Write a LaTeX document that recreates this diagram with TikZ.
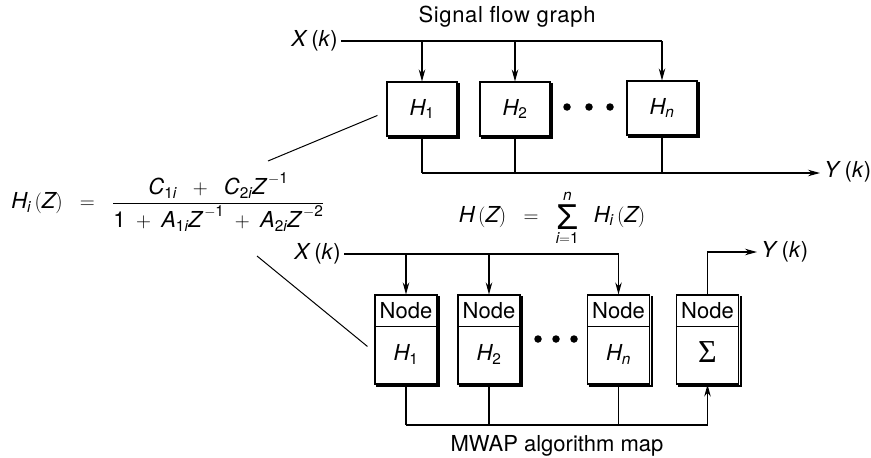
\documentclass[tikz,border=0pt]{standalone}
\usepackage{amsmath}
\usepackage{fontspec}
\setmainfont{TeX Gyre Heros}
\newfontfamily\sigfont{Liberation Serif}
\newfontfamily\sumfont{Liberation Sans}
\usetikzlibrary{arrows.meta}
\newcommand\vv[1]{\textit{#1}}
\newcommand\tu[1]{\textup{#1}}
\newcommand\mysumsign{\mathop{\vcenter{\hbox{\sumfont\fontsize{36}{36}\selectfont Σ}}}\limits}
\tikzset{
  every node/.style={font=\fontsize{22}{26}\selectfont, inner sep=0pt},
  wire/.style={line width=1.1pt},
  arr/.style={wire, -{Stealth[length=12pt,width=6.5pt]}},
  hbox/.style={draw, line width=1.1pt, fill=white, minimum width=70pt, minimum height=54pt},
  nbox/.style={draw, line width=1.1pt, fill=white, minimum width=62pt, minimum height=89pt},
  dot/.style={circle, fill=black, minimum size=7.5pt},
  shadowline/.style={line width=2.2pt}
}
\newcommand\boxshadow[1]{%
  \draw[shadowline] ([xshift=1.6pt,yshift=-2pt]#1.north east) -- ([xshift=1.6pt,yshift=-1.6pt]#1.south east) -- ([xshift=2pt,yshift=-1.6pt]#1.south west);}
\begin{document}
\begin{tikzpicture}[x=1pt,y=-1pt]
\useasboundingbox (0,0) rectangle (871,458);
% ---------- top: signal flow graph ----------
\node (t1) at (507,17) {\addfontfeature{LetterSpace=3}Signal flow graph};
\node[anchor=east] (xk1) at (338,41) {\vv{X}\,(\vv{k})};
\node[hbox] (h1) at (422,109) {};
\node[hbox] (h2) at (515,109) {};
\node[hbox] (hn) at (662,108) {};
\foreach \b in {h1,h2,hn}{\boxshadow{\b}}
\node at (h1) {$\vv{H}_{\tu{1}}$};
\node at (h2) {$\vv{H}_{\tu{2}}$};
\node at (hn) {$\vv{H}_{\vv{n}}$};
\node[dot] (d1) at (567,107) {};
\node[dot] (d2) at (589,107) {};
\node[dot] (d3) at (610,107) {};
\draw[wire] ([xshift=3pt]xk1.east) -- (xk1.east -| hn.north);
\draw[arr] (xk1.east -| h1.north) -- (h1.north);
\draw[arr] (xk1.east -| h2.north) -- (h2.north);
\draw[arr] (xk1.east -| hn.north) -- (hn.north);
\coordinate (s1) at (422,173);
\node[anchor=west] (yk1) at (824,172) {\vv{Y}\,(\vv{k})};
\draw[wire] (h1.south) -- (s1);
\draw[wire] (h2.south) -- (h2.south |- s1);
\draw[wire] (hn.south) -- (hn.south |- s1);
\draw[arr] (s1) -- ([xshift=-4pt]yk1.west |- s1);
% ---------- left formula ----------
\node (f) at (168,202) {$\vv{H}_{\vv{i}}\,(\vv{Z}) \;\;=\;\; \dfrac{\vv{C}_{\tu{1}\vv{i}} \;\;+\;\; \vv{C}_{\tu{2}\vv{i}}\vv{Z}^{\,-\tu{1}}}{\tu{1} \;+\; \vv{A}_{\tu{1}\vv{i}}\vv{Z}^{\,-\tu{1}} \;+\; \vv{A}_{\tu{2}\vv{i}}\vv{Z}^{\,-\tu{2}}}$};
\coordinate (c1) at (268,161);
\coordinate (c2) at (257,256);
\draw[line width=1pt] (c1) -- ([xshift=-9pt,yshift=-34pt]h1.north west);
% ---------- middle formula ----------
\node[anchor=base] (m) at (552,222) {$\vv{H}\,(\vv{Z}) \;\;=\;\; \mysumsign_{\vv{i}=\tu{1}}^{\vv{n}}\;\; \vv{H}_{\vv{i}}\,(\vv{Z})$};
% ---------- bottom: MWAP algorithm map ----------
\node[anchor=east] (xk2) at (341,254) {\vv{X}\,(\vv{k})};
\node[nbox] (n1) at (406,339.5) {};
\node[nbox] (n2) at (489,339.5) {};
\node[nbox] (n3) at (618.5,339.5) {};
\node[nbox] (n4) at (707.5,339.5) {};
\foreach \b in {n1,n2,n3,n4}{
  \boxshadow{\b}
  \draw[line width=1.1pt] ([yshift=-32pt]\b.north west) -- ([yshift=-32pt]\b.north east);
  \node at ([yshift=-16.5pt]\b.north) {Node};
}
\node at ([yshift=-60pt]n1.north) {$\vv{H}_{\tu{1}}$};
\node at ([yshift=-60pt]n2.north) {$\vv{H}_{\tu{2}}$};
\node at ([yshift=-60pt]n3.north) {$\vv{H}_{\vv{n}}$};
\node at ([yshift=-58pt]n4.north) {\sigfont\fontsize{32}{34}\selectfont Σ};
\node[dot] (e1) at (538,339) {};
\node[dot] (e2) at (556,339) {};
\node[dot] (e3) at (574,339) {};
\draw[wire] ([xshift=3pt]xk2.east) -- (xk2.east -| n3.north);
\draw[arr] (xk2.east -| n1.north) -- (n1.north);
\draw[arr] (xk2.east -| n2.north) -- (n2.north);
\draw[arr] (xk2.east -| n3.north) -- (n3.north);
\coordinate (s2) at (406,425);
\draw[wire] (n1.south) -- (s2);
\draw[wire] (n2.south) -- (n2.south |- s2);
\draw[wire] (n3.south) -- (n3.south |- s2);
\draw[arr] (s2) -| (n4.south);
\node[anchor=west] (yk2) at (761,252) {\vv{Y}\,(\vv{k})};
\draw[arr] (n4.north) |- ([xshift=-4pt]yk2.west);
\draw[line width=1pt] (c2) -- ([xshift=-7pt,yshift=-52pt]n1.north west);
\node (t2) at (557,446) {MWAP algorithm map};
\end{tikzpicture}
\end{document}
